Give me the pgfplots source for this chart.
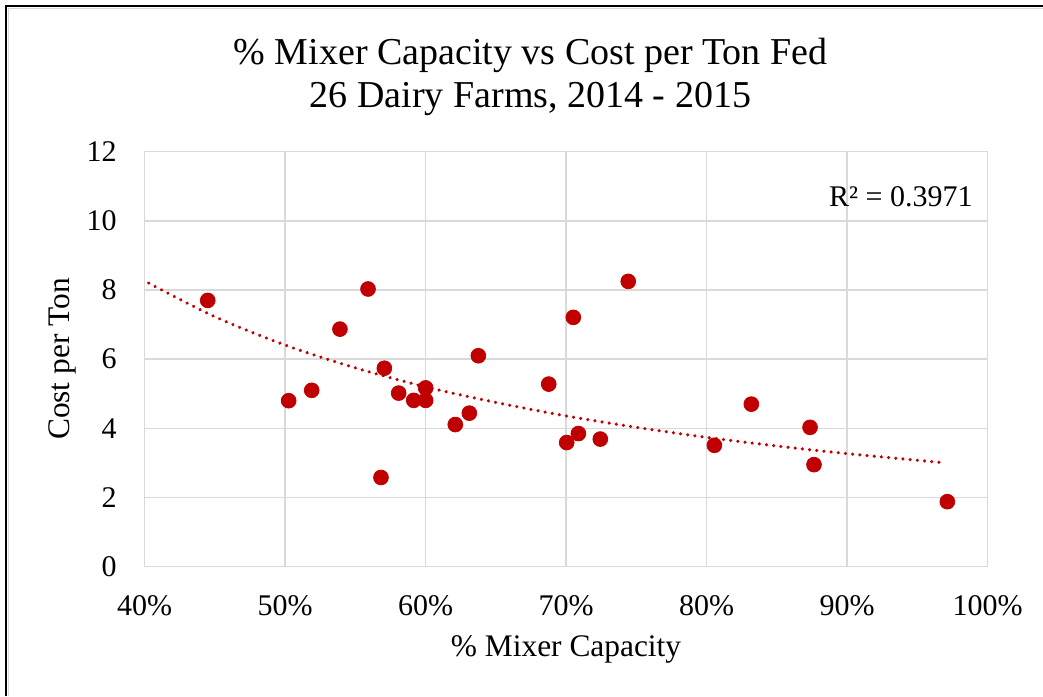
\documentclass[border=0pt]{standalone}
\usepackage{fontspec}
\setmainfont{Liberation Serif}
\usepackage{pgfplots}
\pgfplotsset{compat=1.18}
\definecolor{darkred}{RGB}{192,0,0}
\definecolor{gridgray}{RGB}{217,217,217}
\begin{document}
\begin{tikzpicture}
\path[use as bounding box] (0,0) rectangle (521.5pt,348pt);
\draw[line width=0.6pt, gridgray] (4.4pt,0pt) -- (4.4pt,343.6pt) -- (521.5pt,343.6pt);
\draw[line width=1pt, black] (3pt,0pt) -- (3pt,345pt) -- (521.5pt,345pt);
\begin{axis}[
  at={(72.25pt,64.65pt)}, anchor=south west,
  scale only axis, width=421.5pt, height=207.5pt,
  xmin=40, xmax=100, ymin=0, ymax=12,
  xtick={40,50,60,70,80,90,100},
  xticklabels={40\%,50\%,60\%,70\%,80\%,90\%,100\%},
  ytick={0,2,4,6,8,10,12},
  yticklabels={0,2,4,6,8,10,12},
  major tick length=0pt,
  grid=major,
  grid style={gridgray, line width=0.75pt},
  axis line style={gridgray, line width=0.75pt},
  tick label style={font=\fontsize{15}{18}\selectfont, inner sep=0pt},
  xticklabel style={anchor=north, yshift=-14pt},
  yticklabel style={anchor=east, xshift=-13.75pt},
  /pgf/number format/assume math mode=true,
  clip=false,
]
% power trendline
\addplot[darkred, line width=1.75pt, dash pattern=on 0.01pt off 3.6pt, line cap=round, no marks, smooth] coordinates {
(40.3,8.20) (45,7.23) (50,6.41) (55,5.75) (60,5.20) (65,4.75) (70,4.36) (75,4.03) (80,3.74) (85,3.49) (90,3.27) (96.8,3.01)
};
% farms
\addplot[only marks, mark=*, mark size=3.7pt, color=darkred, mark options={draw=darkred, fill=darkred}] coordinates {
(44.50,7.70) (55.91,8.03) (53.91,6.87) (57.07,5.74) (50.26,4.80) (51.90,5.10) (58.09,5.02) (60.01,5.17)
(59.16,4.81) (60.01,4.81) (62.12,4.11) (63.12,4.44) (63.76,6.10) (56.83,2.58) (74.43,8.25) (70.52,7.21)
(68.77,5.28) (70.05,3.59) (70.88,3.85) (72.44,3.69) (80.56,3.51) (83.19,4.70) (87.37,4.03) (87.65,2.95)
(97.14,1.88)
};
\end{axis}
\node[anchor=base east, inner sep=0pt, font=\fontsize{15}{18}\selectfont] at (486.5pt,244.65pt) {R² = 0.3971};
\node[anchor=base, inner sep=0pt, font=\fontsize{19}{22}\selectfont] at (265.25pt,315.5pt) {\% Mixer Capacity vs Cost per Ton Fed};
\node[anchor=base, inner sep=0pt, font=\fontsize{19}{22}\selectfont] at (265.25pt,294pt) {26 Dairy Farms, 2014 - 2015};
\node[anchor=base, inner sep=0pt, font=\fontsize{15.7}{18}\selectfont] at (283pt,19.65pt) {\% Mixer Capacity};
\node[anchor=base, inner sep=0pt, rotate=90, font=\fontsize{15.7}{18}\selectfont] at (34.5pt,168.5pt) {Cost per Ton};
\end{tikzpicture}
\end{document}
